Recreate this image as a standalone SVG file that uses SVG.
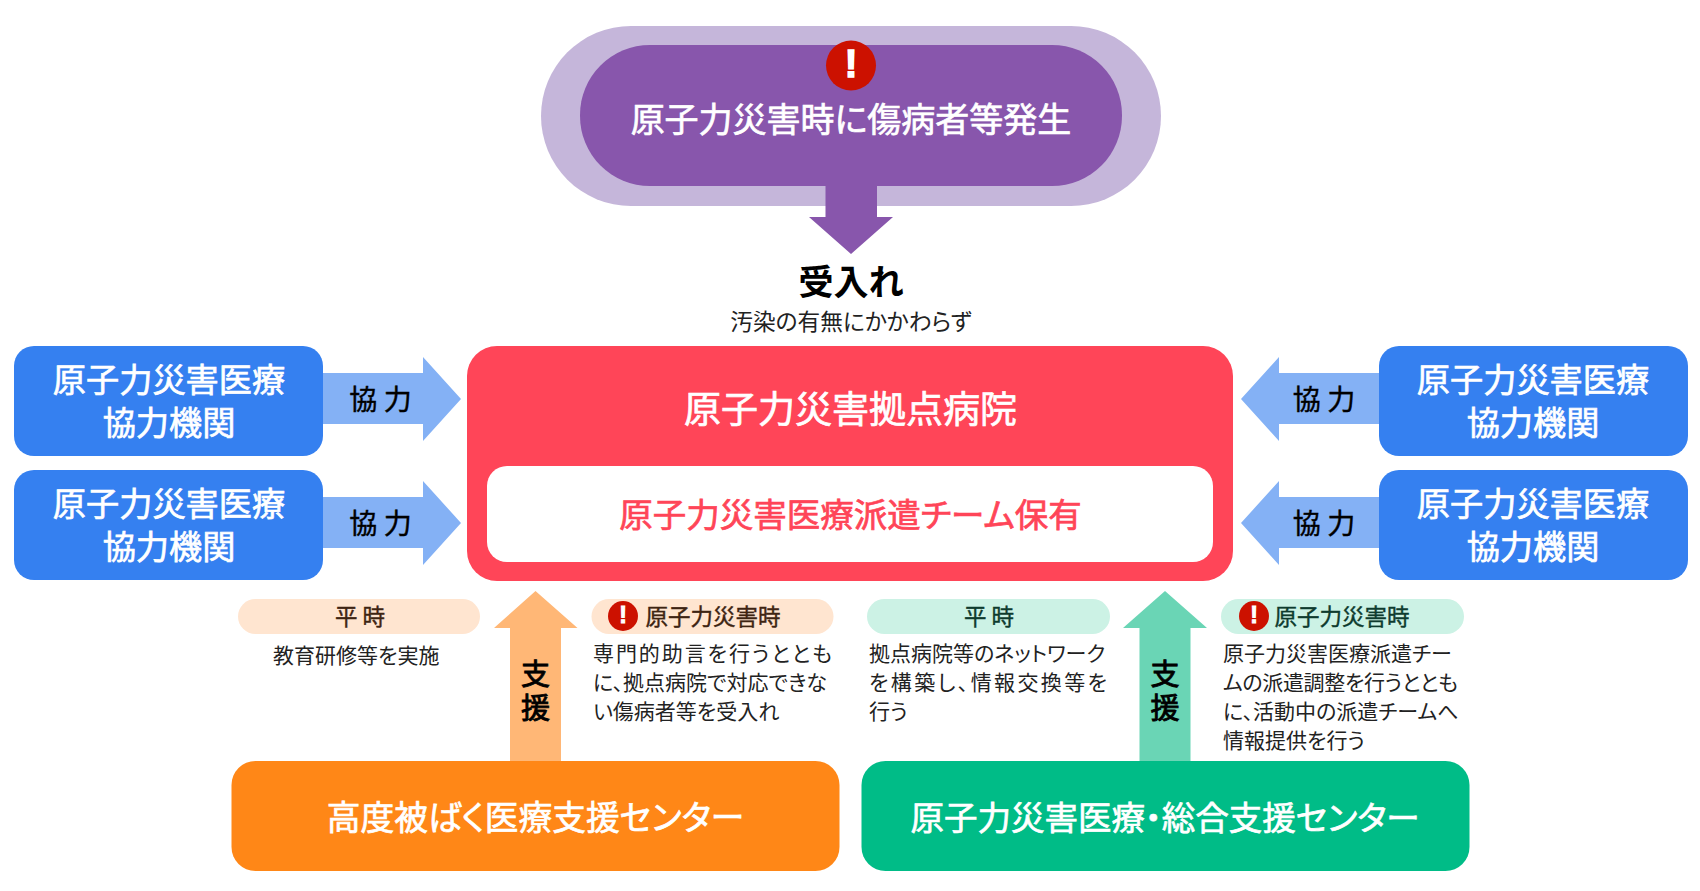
<svg xmlns="http://www.w3.org/2000/svg" width="1700" height="891" viewBox="0 0 1700 891">
<style>
text{font-family:"Noto Sans CJK JP","Noto Sans",sans-serif;text-anchor:middle;dominant-baseline:central;font-feature-settings:"palt"}
.w{fill:#fff;stroke:#fff;stroke-width:.7px}
.lg{font-size:33.200px}
.blk{fill:#000;font-size:28px;stroke:#000;stroke-width:.4px}
.sh{fill:#000;font-size:29px;stroke:#000;stroke-width:.9px}
.body{fill:#222;font-size:21px;text-anchor:start}
.pb{fill:#3e2412;font-size:22.500px;stroke:#3e2412;stroke-width:.4px}
.pg{fill:#0e3b2e;font-size:22.500px;stroke:#0e3b2e;stroke-width:.4px}
.blue{fill:#3580f0}.ablue{fill:#84b1f5}
.ex{fill:#fff;stroke:#fff;font-family:"Liberation Sans",sans-serif;font-weight:700}
.al{fill:#cc1100}
</style>
<rect width="1700" height="891" fill="#fff"/>
<g id="incident">
<rect x="541" y="26" width="620" height="180" rx="90" fill="#c5b6da"/>
<rect x="580" y="45" width="542" height="141" rx="70" fill="#8856ac"/>
<circle class="al" cx="851" cy="65.500" r="25"/><text class="ex" x="851" y="64" font-size="38" stroke-width="1.5">!</text>
<text class="w" x="851" y="117" font-size="34">原子力災害時に傷病者等発生</text>
</g>
<g id="accept">
<text x="851" y="279" font-size="35" font-weight="700" fill="#000">受入れ</text>
<text x="851" y="320.500" font-size="22.700" fill="#222">汚染の有無にかかわらず</text>
</g>
<g id="hospital">
<rect x="467" y="346" width="766" height="235" rx="30" fill="#ff4558"/>
<rect x="487" y="466" width="726" height="96" rx="20" fill="#fff"/>
<text class="w" x="850.500" y="407" font-size="37">原子力災害拠点病院</text>
<text x="850.500" y="512.500" font-size="33.500" fill="#ff4558" stroke="#ff4558" stroke-width=".7">原子力災害医療派遣チーム保有</text>
</g>
<g id="partner-l1"><rect class="blue" x="14" y="346" width="309" height="110" rx="20"/><text class="w lg"><tspan x="169" y="376.500">原子力災害医療</tspan><tspan x="169" y="419.500">協力機関</tspan></text></g>
<g id="partner-l2"><rect class="blue" x="14" y="470" width="309" height="110" rx="20"/><text class="w lg"><tspan x="169" y="500.500">原子力災害医療</tspan><tspan x="169" y="543.500">協力機関</tspan></text></g>
<g id="partner-r1"><rect class="blue" x="1379" y="346" width="309" height="110" rx="20"/><text class="w lg"><tspan x="1533" y="376.500">原子力災害医療</tspan><tspan x="1533" y="419.500">協力機関</tspan></text></g>
<g id="partner-r2"><rect class="blue" x="1379" y="470" width="309" height="110" rx="20"/><text class="w lg"><tspan x="1533" y="500.500">原子力災害医療</tspan><tspan x="1533" y="543.500">協力機関</tspan></text></g>
<g id="center-orange"><rect x="231.500" y="761" width="608" height="110" rx="24" fill="#ff8717"/><text class="w" x="535.500" y="815" font-size="33.700">高度被ばく医療支援センター</text></g>
<g id="center-green"><rect x="861.500" y="761" width="608" height="110" rx="24" fill="#00bc87"/><text class="w" x="1165" y="815" font-size="33.500">原子力災害医療・総合支援センター</text></g>
<g id="connectors">
<polygon points="825.500,186 877,186 877,217 893,217 851,254 809,217 825.500,217" fill="#8856ac"/>
<polygon class="ablue" points="323,373 423,373 423,357 461,399 423,441 423,424 323,424"/>
<polygon class="ablue" points="323,497 423,497 423,481 461,523 423,565 423,548 323,548"/>
<polygon class="ablue" points="1379,373 1279,373 1279,357 1241,399 1279,441 1279,424 1379,424"/>
<polygon class="ablue" points="1379,497 1279,497 1279,481 1241,523 1279,565 1279,548 1379,548"/>
<polygon points="510,761 510,628 494,628 535.500,591 577.500,628 561,628 561,761" fill="#ffb776"/>
<polygon points="1139.500,761 1139.500,628 1123,628 1165,591 1207,628 1190.500,628 1190.500,761" fill="#6ad5b5"/>
<text class="blk" x="380.500" y="397.500">協 力</text><text class="blk" x="380.500" y="521.500">協 力</text><text class="blk" x="1324" y="397.500">協 力</text><text class="blk" x="1324" y="521.500">協 力</text>
<text class="sh"><tspan x="535.500" y="672">支</tspan><tspan x="535.500" y="706">援</tspan></text>
<text class="sh"><tspan x="1165" y="672">支</tspan><tspan x="1165" y="706">援</tspan></text>
</g>
<g id="orange-normal"><rect x="238" y="599" width="242" height="35" rx="17.500" fill="#ffe5d0"/><text class="pb" x="360" y="615">平 時</text><text class="body" x="273" y="654">教育研修等を実施</text></g>
<g id="orange-disaster"><rect x="591.500" y="599" width="242" height="35" rx="17.500" fill="#ffe5d0"/><circle class="al" cx="623" cy="616" r="15"/><text class="ex" x="623" y="615" font-size="23" stroke-width="1">!</text><text class="pb" x="713" y="615">原子力災害時</text>
<text class="body" x="593" y="652" textLength="239">専門的助言を行うととも</text><text class="body" x="593" y="681">に、拠点病院で対応できな</text><text class="body" x="593" y="710">い傷病者等を受入れ</text></g>
<g id="green-normal"><rect x="867" y="599" width="243" height="35" rx="17.500" fill="#ccf2e5"/><text class="pg" x="989" y="615">平 時</text>
<text class="body" x="869" y="652">拠点病院等のネットワーク</text><text class="body" x="869" y="681" textLength="238">を構築し、情報交換等を</text><text class="body" x="869" y="710">行う</text></g>
<g id="green-disaster"><rect x="1221" y="599" width="243" height="35" rx="17.500" fill="#ccf2e5"/><circle class="al" cx="1254" cy="616" r="15"/><text class="ex" x="1254" y="615" font-size="23" stroke-width="1">!</text><text class="pg" x="1342" y="615">原子力災害時</text>
<text class="body" x="1223" y="652">原子力災害医療派遣チー</text><text class="body" x="1223" y="681" textLength="235">ムの派遣調整を行うととも</text><text class="body" x="1223" y="710">に、活動中の派遣チームへ</text><text class="body" x="1223" y="739">情報提供を行う</text></g>
</svg>
